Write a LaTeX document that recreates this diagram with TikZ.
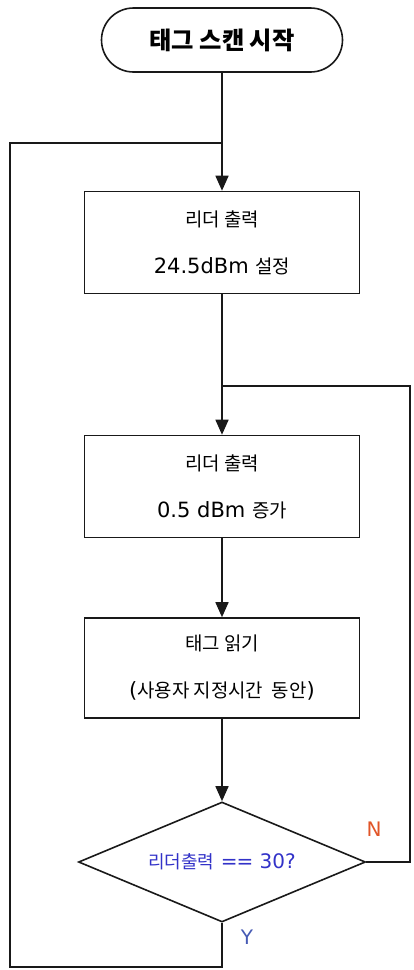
\documentclass[tikz,border=0pt]{standalone}
\usepackage{fontspec}
\setmainfont{DejaVu Sans}
\newfontfamily\kr[Scale=0.9]{Noto Sans CJK KR}
\usetikzlibrary{arrows.meta,shapes.geometric}
\definecolor{diatext}{RGB}{50,50,200}
\definecolor{ncol}{RGB}{225,85,40}
\definecolor{ycol}{RGB}{70,90,180}
\tikzset{
  x=1pt,y=1pt,
  line/.style={line width=1.6pt,draw=black!90},
  arr/.style={line, -{Triangle[length=15pt,width=13pt]}},
  procbox/.style={draw=black!90,line width=1.6pt,rectangle,inner sep=0pt,minimum width=275pt,minimum height=102pt,align=center,font=\fontsize{21}{47}\selectfont},
  termbox/.style={draw=black!90,line width=1.6pt,rectangle,rounded corners=32pt,inner sep=0pt,minimum width=241pt,minimum height=64pt,font=\fontsize{27}{32}\selectfont\bfseries},
  decbox/.style={draw=black!90,line width=1.6pt,diamond,aspect=2.4,inner sep=0pt,minimum width=287pt,minimum height=120pt,font=\fontsize{20}{24}\selectfont,text=diatext},
  lbl/.style={font=\fontsize{20}{24}\selectfont,inner sep=0pt}
}
\begin{document}
\begin{tikzpicture}
\useasboundingbox (0,0) rectangle (414,-970);
\node[termbox] (start) at (222,-40) {\kr 태그 스캔 시작};
\node[procbox] (b1) at (222,-242.5) {{\kr 리더 출력}\\24.5dBm {\kr 설정}};
\node[procbox] (b2) at (222,-486.5) {{\kr 리더 출력}\\0.5 dBm {\kr 증가}};
\node[procbox,minimum height=100pt] (b3) at (222,-668) {{\kr 태그 읽기}\\({\kr 사용자 지정시간\ \ 동안})};
\node[decbox] (d) at (222,-862) {{\kr 리더출력} =\kern-1pt= 30?};
\coordinate (j1) at (222,-143);
\coordinate (j2) at (222,-386);
\coordinate (rb) at (410,-386);
\coordinate (lb) at (10,-967);
\node[lbl,text=ncol] (N) at (374,-829) {N};
\node[lbl,text=ycol] (Y) at (247,-937) {Y};
\draw[arr] (start.south) -- (b1.north);
\draw[arr] (b1.south) -- (b2.north);
\draw[arr] (b2.south) -- (b3.north);
\draw[arr] (b3.south) -- (d.north);
\draw[line] (d.east) -| (rb) -- (j2);
\draw[line] (d.south) |- (lb) |- (j1);
\end{tikzpicture}
\end{document}
